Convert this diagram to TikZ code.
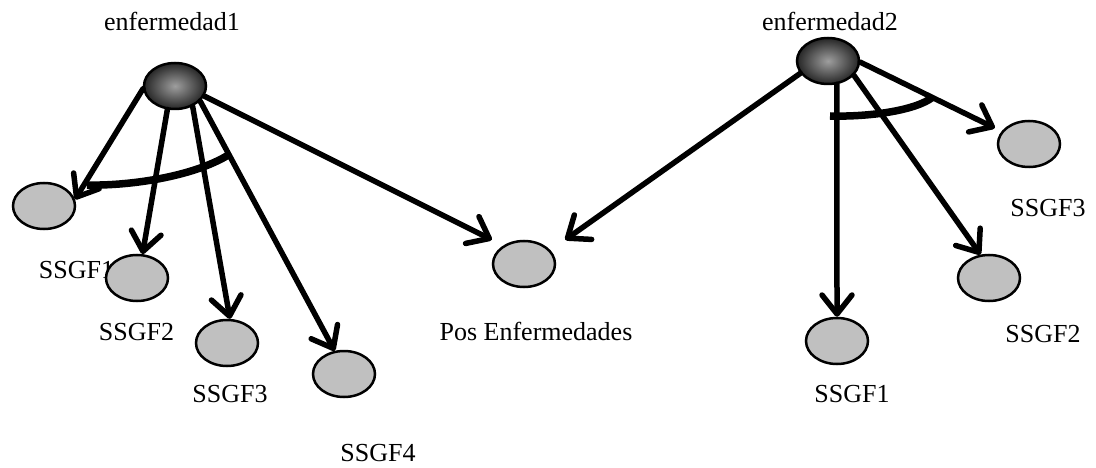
\documentclass[tikz,border=0pt]{standalone}
\usepackage{fontspec}
\setmainfont{Liberation Serif}
\usetikzlibrary{arrows.meta,calc,shapes.geometric}
\begin{document}
\begin{tikzpicture}[x=1pt,y=-1pt,
  leaf/.style={ellipse, draw=black, line width=2.5pt,
    fill={rgb,255:red,192;green,192;blue,192},
    minimum width=62pt, minimum height=46pt, inner sep=0pt},
  root/.style={leaf, shading=radial, inner color=black!38, outer color=black!85},
  lbl/.style={font=\fontsize{26}{30}\selectfont, anchor=base, inner sep=0pt},
  link/.style={line width=5.5pt, line cap=round,
    -{Straight Barb[length=19pt,width=30pt,line cap=round,line join=round]}},
  andarc/.style={line width=7.5pt}
]
\path[use as bounding box] (0,0) rectangle (1096,468);

% labels (drawn first so the ellipses may cover them)
\node[lbl] (t1)  at (172,31)  {enfermedad1};
\node[lbl] (t2)  at (830,31)  {enfermedad2};
\node[lbl] (ta1) at (76.5,278) {SSGF1};
\node[lbl] (ta2) at (136.5,340) {SSGF2};
\node[lbl] (ta3) at (230,402) {SSGF3};
\node[lbl] (ta4) at (378,461) {SSGF4};
\node[lbl] (tp)  at (536,340) {Pos Enfermedades};
\node[lbl] (tb3) at (1048,217) {SSGF3};
\node[lbl] (tb2) at (1043,342) {SSGF2};
\node[lbl] (tb1) at (852,402) {SSGF1};

% disease nodes
\node[root] (e1) at (175,86) {};
\node[root] (e2) at (828,61) {};

% sub-nodes of enfermedad1
\node[leaf] (A1) at (44,206) {};
\node[leaf] (A2) at (137,278) {};
\node[leaf] (A3) at (227,343) {};
\node[leaf] (A4) at (344,374) {};

% shared node
\node[leaf] (P) at (524,264) {};

% sub-nodes of enfermedad2
\node[leaf] (B3) at (1029,144) {};
\node[leaf] (B2) at (989,278) {};
\node[leaf] (B1) at (837,341) {};

% connectors from enfermedad1
\draw[link] (e1.185) -- (A1.12);
\draw[link] (e1.252) -- (A2.77);
\draw[link] (e1.311) -- (A3.83);
\draw[link] (e1.329) -- (A4.112);
\draw[link] (e1.341) -- (P.west |- P.north);

% connectors from enfermedad2
\draw[link] (e2.204) -- ($(P.east |- P.north)+(9,0)$);
\draw[link] (e2.291) -- (B1.north);
\draw[link] (e2.331) -- (B2.110);
\draw[link] (e2.358) -- ($(B3.west)+(-2,-16)$);

% AND arcs
\draw[andarc] (87,185) .. controls (125,186) and (192,178) .. (230,154);
\draw[andarc] (830,116) .. controls (868,117) and (915,111) .. (933,97);
\end{tikzpicture}
\end{document}
